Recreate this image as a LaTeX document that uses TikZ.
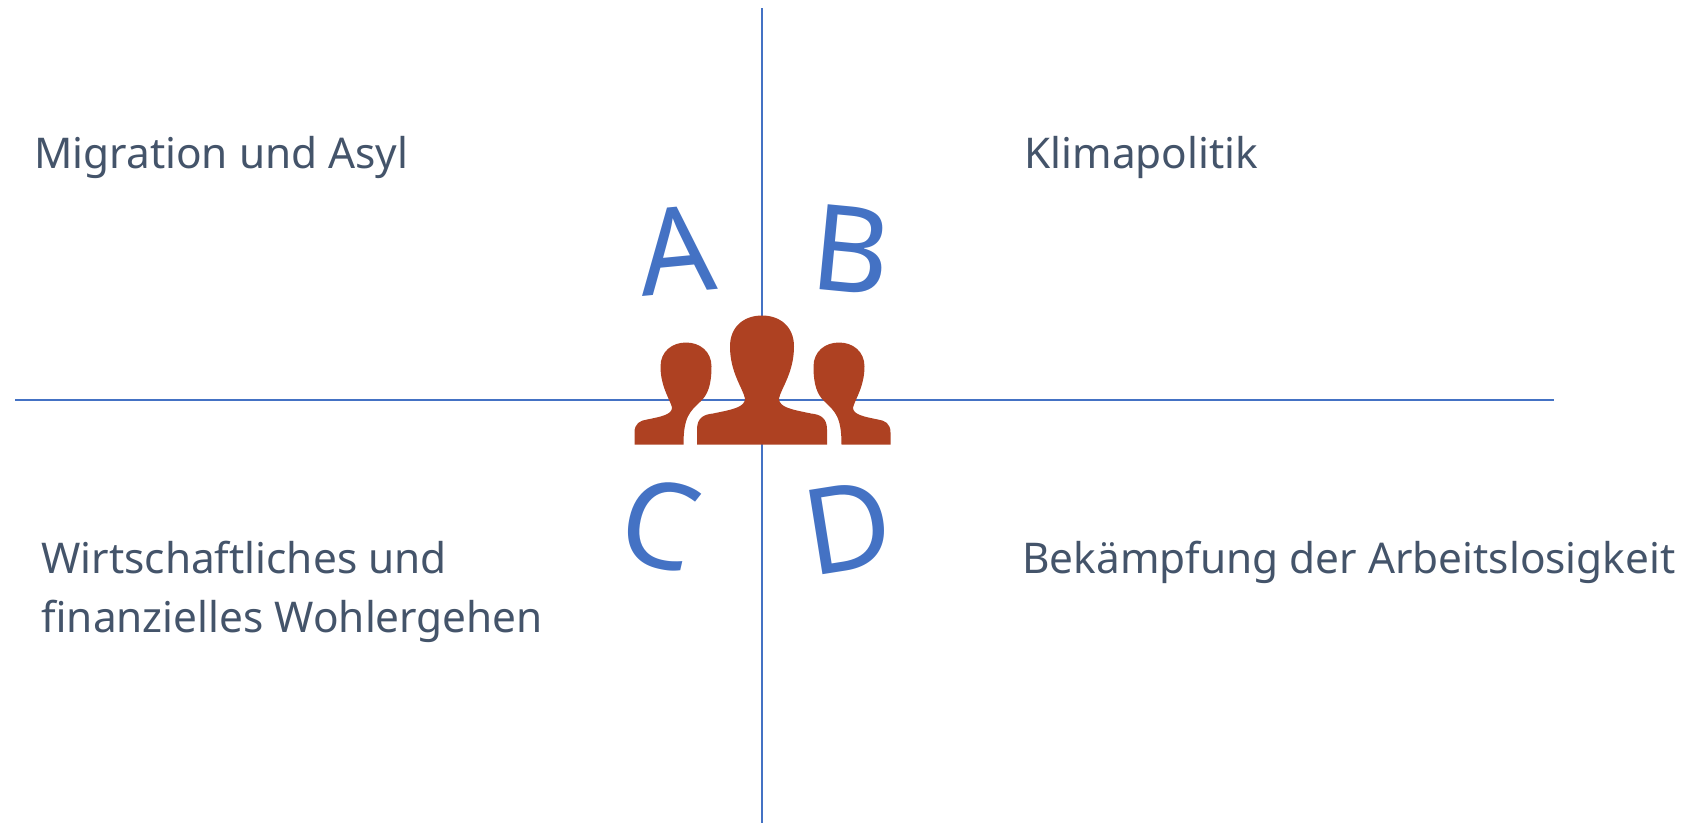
\documentclass[tikz,border=0pt]{standalone}
\usepackage{fontspec}
\setmainfont{Noto Sans}
\usepackage{xcolor}
\definecolor{axisblue}{RGB}{68,114,196}
\definecolor{labelslate}{RGB}{68,84,106}
\definecolor{crowdred}{RGB}{174,65,34}
\begin{document}
\begin{tikzpicture}[
    x=0.02cm, y=-0.02cm,
    topic/.style={
        font=\fontsize{24.1}{33.6}\selectfont, text=labelslate,
        anchor=base west, align=left, inner sep=0pt
    },
    quadrant/.style={
        font=\fontsize{68}{72}\selectfont, text=axisblue, inner sep=0pt
    },
    axisline/.style={draw=axisblue, line width=1.1pt},
    person/.style={fill=crowdred, draw=none}
]
\useasboundingbox (0,0) rectangle (1685,823);

% Axes
\coordinate (top) at (762,8);
\coordinate (bottom) at (762,823);
\coordinate (left) at (15,400);
\coordinate (right) at (1554,400);
\draw[axisline] (top) -- (bottom);
\draw[axisline] (left) -- (right);

% Topics
\node[topic] (migration) at (34,168) {Migration und Asyl};
\node[topic] (klima) at (1024,168) {Klimapolitik};
\node[topic] (wirtschaft) at (41,573) {Wirtschaftliches und};
\node[topic] (finanz) at (41,632) {finanzielles Wohlergehen};
\node[topic] (arbeit) at (1022,573) {Bekämpfung der Arbeitslosigkeit};

% Letters
\node[quadrant, rotate=5.5] (a) at (676,250) {A};
\node[quadrant, rotate=-5.5] (b) at (851,250) {B};
\node[quadrant, rotate=-13] (c) at (660,524) {C};
\node[quadrant, rotate=9] (d) at (848,528) {D};

% Centre person
\fill[person, shift={(762,444.5)}]
    (-65,0) -- (-65,-15) .. controls (-65,-27) and (-58,-30) .. (-49,-31)
    .. controls (-30,-35) and (-17,-37) .. (-17,-46)
    .. controls (-19,-56) and (-32,-72) .. (-32,-98)
    .. controls (-32,-118) and (-18,-129) .. (0,-129)
    .. controls (18,-129) and (32,-118) .. (32,-98)
    .. controls (32,-72) and (19,-56) .. (17,-46)
    .. controls (17,-37) and (30,-35) .. (49,-31)
    .. controls (58,-30) and (65,-27) .. (65,-15) -- (65,0) -- cycle;

% Left person
\fill[person, shift={(686,444.5)}]
    (-51.5,0) -- (-51.5,-12) .. controls (-51.5,-21) and (-46,-24) .. (-39,-25)
    .. controls (-24,-28) and (-14,-30) .. (-14,-37)
    .. controls (-16,-45) and (-25.5,-58) .. (-25.5,-78)
    .. controls (-25.5,-93) and (-14,-102) .. (0,-102)
    .. controls (14,-102) and (25.5,-93) .. (25.5,-78)
    .. controls (25.5,-60) and (22,-50) .. (14.5,-43)
    .. controls (4,-33) and (-2.5,-28) .. (-2.5,0) -- cycle;

% Right person
\fill[person, shift={(839,444.5)}, xscale=-1]
    (-51.5,0) -- (-51.5,-12) .. controls (-51.5,-21) and (-46,-24) .. (-39,-25)
    .. controls (-24,-28) and (-14,-30) .. (-14,-37)
    .. controls (-16,-45) and (-25.5,-58) .. (-25.5,-78)
    .. controls (-25.5,-93) and (-14,-102) .. (0,-102)
    .. controls (14,-102) and (25.5,-93) .. (25.5,-78)
    .. controls (25.5,-60) and (22,-50) .. (14.5,-43)
    .. controls (4,-33) and (-2.5,-28) .. (-2.5,0) -- cycle;

\end{tikzpicture}
\end{document}
